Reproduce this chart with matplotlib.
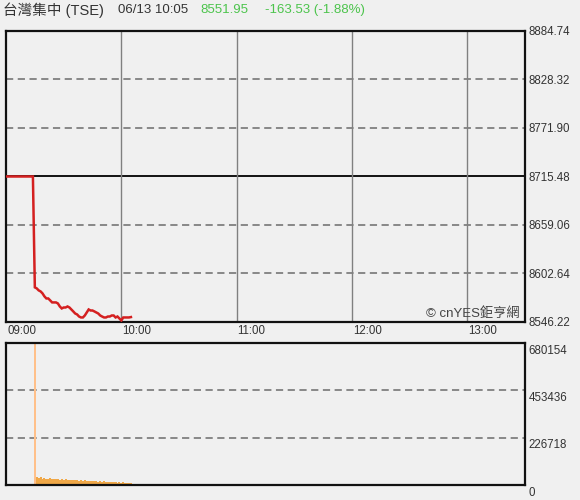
import matplotlib
matplotlib.use("Agg")
import matplotlib.pyplot as plt
from matplotlib.transforms import ScaledTranslation

# ---------------- data ----------------
title_name = "台灣集中 (TSE)"
title_time = "06/13 10:05"
last_price = "8551.95"
change_text = "-163.53 (-1.88%)"
watermark = "© cnYES鉅亨網"

prev_close = 8715.48
price_ticks = [8546.22, 8602.64, 8659.06, 8715.48, 8771.90, 8828.32, 8884.74]
volume_ticks = [0, 226718, 453436, 680154]
time_ticks = [0, 60, 120, 180, 240]          # minutes after 09:00
time_labels = ["09:00", "10:00", "11:00", "12:00", "13:00"]
session_minutes = 270                         # 09:00 - 13:30

price_minutes = list(range(0, 66))
price_values = [8715.48] * 15 + [
    8586.5, 8585.3, 8583.0, 8581.8, 8579.5, 8576.0, 8573.6, 8573.6, 8571.3, 8569.0,
    8569.0, 8569.0, 8567.8, 8564.3, 8562.0, 8563.1, 8563.1, 8564.3, 8563.1, 8560.8,
    8558.5, 8556.1, 8555.0, 8552.6, 8551.5, 8551.5, 8553.8, 8557.3, 8560.8, 8559.6,
    8559.6, 8558.5, 8557.3, 8556.1, 8553.8, 8552.6, 8551.5, 8551.5, 8552.6, 8552.6,
    8553.8, 8553.8, 8551.5, 8552.6, 8550.3, 8548.0, 8551.5, 8551.5, 8551.5, 8551.5,
    8551.95]

volume_minutes = list(range(15, 66))
volume_values = [680154,
    38000, 33000, 36000, 30000, 34000, 31000, 29000, 33000, 28000, 30000,
    27000, 29000, 26000, 28000, 25000, 27000, 24000, 26000, 23000, 25000,
    22000, 24000, 21000, 23000, 20000, 22000, 19000, 21000, 18000, 20000,
    17000, 19000, 16000, 18000, 15000, 17000, 14000, 16000, 13000, 15000,
    12000, 14000, 11000, 13000, 10000, 12000, 9000, 11000, 8000, 10000]

# ---------------- style ----------------
bg = "#f0f0f0"
plt.rcParams['font.family'] = ['Liberation Sans', 'Noto Sans CJK TC', 'DejaVu Sans']

fig = plt.figure(figsize=(5.8, 5.0), dpi=100, facecolor=bg)
ax1 = fig.add_axes([6 / 580, 1 - 322 / 500, 519 / 580, 291 / 500], facecolor=bg)
ax2 = fig.add_axes([6 / 580, 1 - 485 / 500, 519 / 580, 142 / 500], facecolor=bg)

grid_gray = "#808080"

for ax in (ax1, ax2):
    for s in ax.spines.values():
        s.set_linewidth(1.6)
        s.set_color("#111111")
    ax.set_xlim(0, session_minutes)
    ax.yaxis.tick_right()
    ax.tick_params(axis='both', length=0, labelsize=8.3, labelcolor="#333333")

# ---- price panel ----
ax1.set_ylim(price_ticks[0], price_ticks[-1])
ax1.set_yticks(price_ticks)
ax1.set_yticklabels([f"{v:.2f}" for v in price_ticks])
ax1.tick_params(axis='y', pad=2.5)
for lab in ax1.get_yticklabels():
    lab.set_verticalalignment('center_baseline')
for v in price_ticks[1:-1]:
    if abs(v - prev_close) < 1e-6:
        ax1.axhline(v, color="#111111", lw=1.4, zorder=1)
    else:
        ax1.axhline(v, color=grid_gray, lw=1.3, ls=(0, (4, 2.5)), zorder=1)
for t in time_ticks[1:]:
    ax1.axvline(t, color=grid_gray, lw=1.0, zorder=1)

ax1.set_xticks(time_ticks)
ax1.set_xticklabels(time_labels)
ax1.tick_params(axis='x', pad=2)
for lab in ax1.get_xticklabels():
    lab.set_horizontalalignment('left')
    lab.set_transform(lab.get_transform() + ScaledTranslation(1 / 100, 0, fig.dpi_scale_trans))

ax1.plot(price_minutes, price_values, color="#d42020", lw=1.8, zorder=3,
         solid_joinstyle='miter')

ax1.text(0.99, 0.008, watermark, transform=ax1.transAxes, ha='right', va='bottom',
         fontsize=9.5, color="#444444",
         family=['Liberation Sans', 'Noto Sans CJK TC'])

# ---- volume panel ----
ax2.set_ylim(volume_ticks[0], volume_ticks[-1])
ax2.set_yticks(volume_ticks)
ax2.set_yticklabels([str(v) for v in volume_ticks])
ax2.tick_params(axis='y', pad=2.5)
for lab in ax2.get_yticklabels():
    lab.set_verticalalignment('top')
    lab.set_transform(lab.get_transform() + ScaledTranslation(0, -1.5 / 100, fig.dpi_scale_trans))
for v in volume_ticks[1:-1]:
    ax2.axhline(v, color=grid_gray, lw=1.3, ls=(0, (4, 2.5)), zorder=1)
ax2.set_xticks([])

ax2.bar(volume_minutes[:1], volume_values[:1], width=0.9, color="#ffc08a", zorder=2)
ax2.bar(volume_minutes[1:], volume_values[1:], width=1.0, color="#f0a848",
        linewidth=0, zorder=2)

# ---- header ----
fig.text(3 / 580, 1 - 10 / 500, title_name, ha='left', va='center', fontsize=10.5,
         color="#333333")
fig.text(118 / 580, 1 - 10 / 500, title_time, ha='left', va='center', fontsize=9.5,
         color="#333333")
fig.text(200 / 580, 1 - 10 / 500, last_price, ha='left', va='center', fontsize=9.5,
         color="#4cc44c")
fig.text(265 / 580, 1 - 10 / 500, change_text, ha='left', va='center', fontsize=9.5,
         color="#4cc44c")

fig.savefig("out.png", dpi=100, facecolor=bg)
